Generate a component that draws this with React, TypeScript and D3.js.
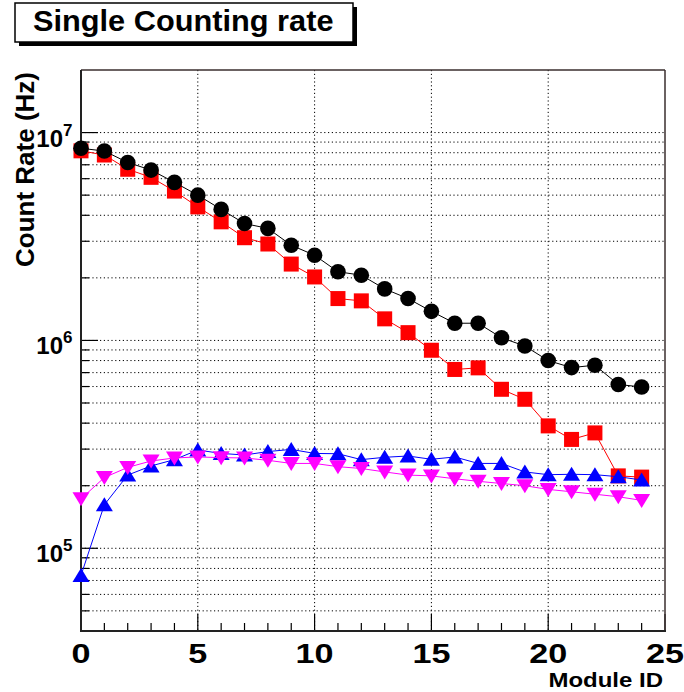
import React from "react";
import * as d3 from "d3";

const moduleIds = d3.range(0, 25);
const seriesBlack = [8.4e6, 8.15e6, 7.18e6, 6.6e6, 5.76e6, 5.0e6, 4.27e6, 3.65e6, 3.46e6, 2.87e6, 2.57e6, 2.14e6, 2.06e6, 1.77e6, 1.59e6, 1.38e6, 1.21e6, 1.21e6, 1.03e6, 9.4e5, 8.0e5, 7.4e5, 7.6e5, 6.14e5, 5.97e5];
const seriesRed = [8.17e6, 7.8e6, 6.66e6, 6.09e6, 5.23e6, 4.39e6, 3.72e6, 3.12e6, 2.91e6, 2.33e6, 2.02e6, 1.59e6, 1.55e6, 1.27e6, 1.09e6, 8.97e5, 7.25e5, 7.38e5, 5.82e5, 5.21e5, 3.88e5, 3.34e5, 3.59e5, 2.23e5, 2.2e5];
const seriesBlue = [7.4e4, 1.62e5, 2.25e5, 2.49e5, 2.67e5, 2.97e5, 2.86e5, 2.81e5, 2.92e5, 2.99e5, 2.86e5, 2.85e5, 2.67e5, 2.74e5, 2.78e5, 2.68e5, 2.75e5, 2.56e5, 2.56e5, 2.33e5, 2.26e5, 2.27e5, 2.26e5, 2.21e5, 2.13e5];
const seriesMagenta = [1.73e5, 2.19e5, 2.45e5, 2.63e5, 2.72e5, 2.75e5, 2.73e5, 2.72e5, 2.65e5, 2.56e5, 2.56e5, 2.47e5, 2.42e5, 2.33e5, 2.25e5, 2.23e5, 2.16e5, 2.1e5, 2.05e5, 2.0e5, 1.92e5, 1.87e5, 1.82e5, 1.77e5, 1.7e5];
const xMajorTicks = [0, 5, 10, 15, 20, 25];
const xMinorTicks = d3.range(0, 26);
const yLabelExponents = [5, 6, 7];

const title = "Single Counting rate";
const xTitle = "Module ID";
const yTitle = "Count Rate (Hz)";

const FONT = "'Liberation Sans', Arial, Helvetica, sans-serif";

export default function App() {
  const L = 81, R = 665, T = 70, B = 631;
  const x = d3.scaleLinear().domain([0, 25]).range([L, R]);
  const y = d3.scaleLog().domain([4e4, 2e7]).range([B, T]);
  const yTicks = y.ticks().filter((v) => v > 4e4 * 1.001 && v < 2e7 * 0.999);
  const isMajor = (v: number) => Math.abs(Math.log10(v) - Math.round(Math.log10(v))) < 1e-9;

  const line = d3
    .line<number>()
    .x((_, i) => x(moduleIds[i]))
    .y((d) => y(d));

  const series = [
    { data: seriesRed, color: "#ff0000", marker: "square" },
    { data: seriesBlack, color: "#000000", marker: "circle" },
    { data: seriesBlue, color: "#0000ff", marker: "up" },
    { data: seriesMagenta, color: "#ff00ff", marker: "down" },
  ];

  const marker = (m: string, cx: number, cy: number, color: string, key: string) => {
    if (m === "circle") return <circle key={key} cx={cx} cy={cy} r={7.8} fill={color} />;
    if (m === "square") return <rect key={key} x={cx - 7.5} y={cy - 7.5} width={15} height={15} fill={color} />;
    if (m === "up")
      return <path key={key} d={`M${cx},${cy - 7.5}L${cx + 8.5},${cy + 6.5}L${cx - 8.5},${cy + 6.5}Z`} fill={color} />;
    return <path key={key} d={`M${cx},${cy + 7.5}L${cx + 8.5},${cy - 6.5}L${cx - 8.5},${cy - 6.5}Z`} fill={color} />;
  };

  return (
    <svg width={684} height={692} style={{ position: "absolute", left: 0, top: 0, background: "#fff" }} fontFamily={FONT}>
      <rect x={0} y={0} width={684} height={692} fill="#fff" />
      {/* grid */}
      {yTicks.map((v) => (
        <line key={"gy" + v} x1={L} x2={R} y1={y(v)} y2={y(v)} stroke="#000" strokeWidth={1} strokeDasharray="1.2 2.6" />
      ))}
      {xMajorTicks.slice(1, -1).map((v) => (
        <line key={"gx" + v} x1={x(v)} x2={x(v)} y1={T} y2={B} stroke="#000" strokeWidth={1} strokeDasharray="1.2 2.6" />
      ))}
      {/* ticks */}
      {yTicks.map((v) => (
        <line key={"ty" + v} x1={L} x2={L + (isMajor(v) ? 17 : 8)} y1={y(v)} y2={y(v)} stroke="#000" strokeWidth={1.2} />
      ))}
      {xMinorTicks.map((v) => (
        <line key={"tx" + v} x1={x(v)} x2={x(v)} y1={B} y2={B - (v % 5 === 0 ? 17 : 8)} stroke="#000" strokeWidth={1.2} />
      ))}
      {/* frame */}
      <line x1={L} x2={R} y1={T} y2={T} stroke="#3a2e2e" strokeWidth={1.5} />
      <line x1={R} x2={R} y1={T} y2={B} stroke="#3a2e2e" strokeWidth={1.5} />
      <line x1={L} x2={L} y1={T} y2={B + 1} stroke="#222" strokeWidth={2} />
      <line x1={L - 1} x2={R + 1} y1={B} y2={B} stroke="#222" strokeWidth={2} />
      {/* series */}
      {series.map((s, si) => (
        <g key={"s" + si}>
          <path d={line(s.data) || ""} fill="none" stroke={s.color} strokeWidth={1} />
          {s.data.map((v, i) => marker(s.marker, x(moduleIds[i]), y(v), s.color, `m${si}-${i}`))}
        </g>
      ))}
      {/* x tick labels */}
      {xMajorTicks.map((v) => (
        <text key={"lx" + v} transform={`translate(${x(v)},663) scale(1.22,1)`} textAnchor="middle" fontSize={28} fontWeight="bold">
          {v}
        </text>
      ))}
      {/* y tick labels */}
      {yLabelExponents.map((e) => (
        <text key={"ly" + e} x={63} y={y(Math.pow(10, e)) + 14} textAnchor="end" fontSize={24} fontWeight="bold">
          10
        </text>
      ))}
      {yLabelExponents.map((e) => (
        <text key={"lye" + e} x={63} y={y(Math.pow(10, e)) + 3} textAnchor="start" fontSize={17} fontWeight="bold">
          {e}
        </text>
      ))}
      {/* axis titles */}
      <text transform="translate(663,687) scale(1.17,1)" textAnchor="end" fontSize={20.5} fontWeight="bold">
        {xTitle}
      </text>
      <text transform="translate(34,72) rotate(-90)" textAnchor="end" fontSize={26} fontWeight="bold">
        {yTitle}
      </text>
      {/* title box */}
      <rect x={19} y={7} width={338} height={39} fill="#000" />
      <rect x={15} y={3} width={338} height={39} fill="#fff" stroke="#000" strokeWidth={1.5} />
      <text transform="translate(33,31) scale(1.06,1)" fontSize={29} fontWeight="bold">
        {title}
      </text>
    </svg>
  );
}
